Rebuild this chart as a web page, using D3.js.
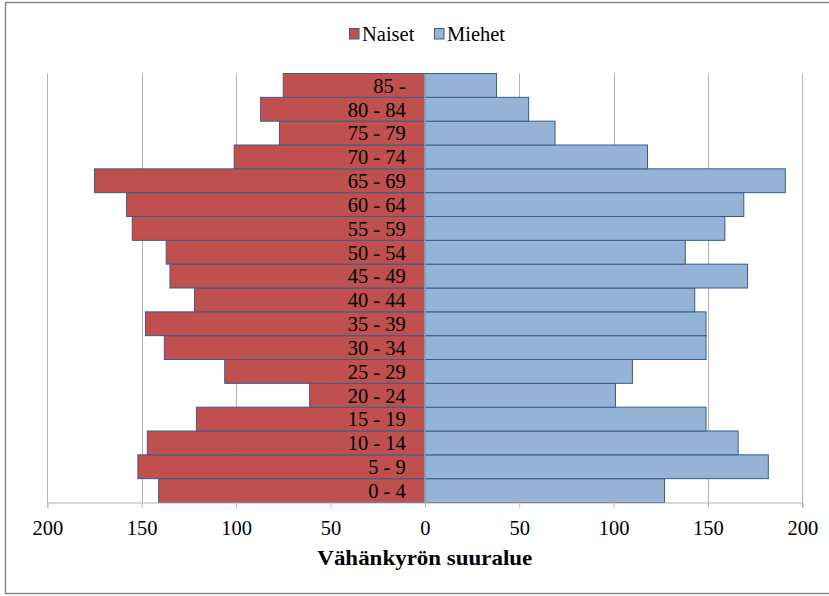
<!DOCTYPE html>
<html>
<head>
<meta charset="utf-8">
<script src="https://cdn.jsdelivr.net/npm/d3@7"></script>
<style>
  html, body { margin: 0; padding: 0; background: #fff; }
  svg { display: block; }
  svg text { font-family: "Times New Roman", "Liberation Serif", Tinos, "DejaVu Serif", serif !important; fill: #000; }
</style>
</head>
<body>
<svg id="chart" width="829" height="596"></svg>
<script>
// Age groups, youngest first
const ageGroups = ["0 - 4", "5 - 9", "10 - 14", "15 - 19", "20 - 24", "25 - 29", "30 - 34",
  "35 - 39", "40 - 44", "45 - 49", "50 - 54", "55 - 59", "60 - 64", "65 - 69",
  "70 - 74", "75 - 79", "80 - 84", "85 -"];
// Women per age group (drawn to the left)
const naiset = [141, 152, 147, 121, 61, 106, 138, 148, 122, 135, 137, 155, 158, 175, 101, 77, 87, 75];
// Men per age group (drawn to the right)
const miehet = [127, 182, 166, 149, 101, 110, 149, 149, 143, 171, 138, 159, 169, 191, 118, 69, 55, 38];
// Axis ticks
const tickValues = [-200, -150, -100, -50, 0, 50, 100, 150, 200];
const seriesNames = ["Naiset", "Miehet"];
const xTitle = "Vähänkyrön suuralue";

const colors = { Naiset: "#c0504d", Miehet: "#95b3d7" };
const barStroke = "#385d8a";
const gridColor = "#b3b3b3";

const svg = d3.select("#chart");

// Outer chart border
svg.append("rect")
  .attr("x", 5.5).attr("y", 2.5)
  .attr("width", 840).attr("height", 591)
  .attr("fill", "none").attr("stroke", "#8a8a8a").attr("stroke-width", 1.5);

const x = d3.scaleLinear().domain([-200, 200]).range([47.3, 802.3]);
const y = d3.scaleBand().domain(ageGroups.slice().reverse()).range([73.5, 502.5]).padding(0);

// Vertical gridlines
svg.append("g").selectAll("line")
  .data(tickValues.filter(d => d !== 0))
  .join("line")
  .attr("x1", d => Math.round(x(d)) + 0.5).attr("x2", d => Math.round(x(d)) + 0.5)
  .attr("y1", y.range()[0]).attr("y2", y.range()[1])
  .attr("stroke", gridColor).attr("stroke-width", 1);

// Women bars
svg.append("g").selectAll("rect")
  .data(ageGroups.map((g, i) => ({ g, v: naiset[i] })))
  .join("rect")
  .attr("x", d => x(-d.v)).attr("y", d => y(d.g))
  .attr("width", d => x(0) - x(-d.v)).attr("height", y.bandwidth())
  .attr("fill", colors.Naiset).attr("stroke", barStroke).attr("stroke-width", 1);

// Men bars
svg.append("g").selectAll("rect")
  .data(ageGroups.map((g, i) => ({ g, v: miehet[i] })))
  .join("rect")
  .attr("x", x(0)).attr("y", d => y(d.g))
  .attr("width", d => x(d.v) - x(0)).attr("height", y.bandwidth())
  .attr("fill", colors.Miehet).attr("stroke", barStroke).attr("stroke-width", 1);

// Zero line
svg.append("line")
  .attr("x1", x(0)).attr("x2", x(0))
  .attr("y1", y.range()[0]).attr("y2", y.range()[1])
  .attr("stroke", "#a6a6a6").attr("stroke-width", 1.2);

// Age group labels, right-aligned against the zero line
svg.append("g").selectAll("text")
  .data(ageGroups)
  .join("text")
  .attr("x", x(0) - 19)
  .attr("y", d => y(d) + y.bandwidth() / 2 + 7.3)
  .attr("text-anchor", "end")
  .attr("font-size", 20.5)
  .text(d => d);

// X axis
const xAxis = d3.axisBottom(x)
  .tickValues(tickValues)
  .tickSize(5)
  .tickFormat(d => Math.abs(d));
const axisG = svg.append("g")
  .attr("transform", `translate(0,${y.range()[1]})`)
  .call(xAxis)
  .attr("font-family", null);
axisG.select(".domain").attr("stroke", gridColor).attr("stroke-width", 1.2);
axisG.selectAll(".tick line").attr("stroke", gridColor);
axisG.selectAll(".tick text")
  .attr("font-size", 20.5)
  .attr("fill", "#000")
  .attr("dy", 0)
  .attr("y", 32);

// Axis title
svg.append("text")
  .attr("x", x(0)).attr("y", 565)
  .attr("text-anchor", "middle")
  .attr("font-size", 21)
  .attr("font-weight", "bold")
  .attr("textLength", 215)
  .attr("lengthAdjust", "spacingAndGlyphs")
  .text(xTitle);

// Legend
const legend = svg.append("g");
const legendItems = [
  { name: seriesNames[0], sx: 349, tx: 362 },
  { name: seriesNames[1], sx: 434, tx: 447 }
];
legend.selectAll("rect")
  .data(legendItems)
  .join("rect")
  .attr("x", d => d.sx + 0.5).attr("y", 28.5)
  .attr("width", 9.5).attr("height", 10.5)
  .attr("fill", d => colors[d.name])
  .attr("stroke", barStroke).attr("stroke-width", 1);
legend.selectAll("text")
  .data(legendItems)
  .join("text")
  .attr("x", d => d.tx).attr("y", 41)
  .attr("font-size", 20.5)
  .text(d => d.name);
</script>
</body>
</html>
